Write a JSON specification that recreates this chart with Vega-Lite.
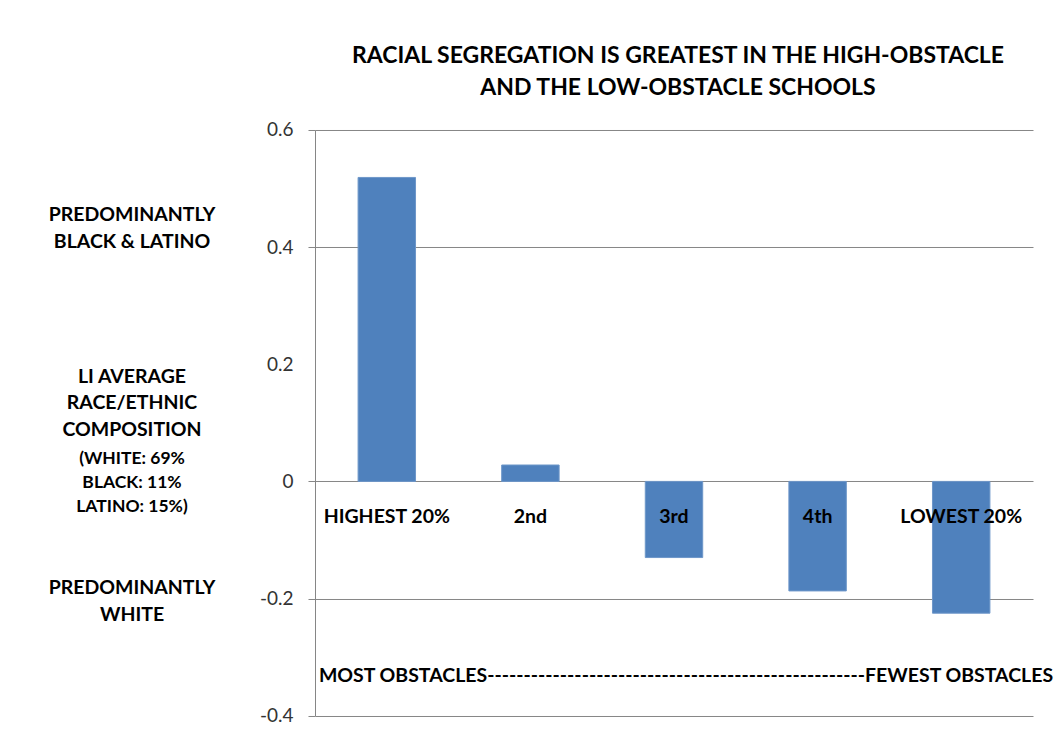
{
  "$schema": "https://vega.github.io/schema/vega-lite/v6.json",
  "background": "white",
  "padding": {"left": 0, "top": 45, "right": 4, "bottom": 4},
  "bounds": "flush",
  "spacing": 51,
  "config": {
    "view": {"stroke": null},
    "font": "Lato",
    "text": {"font": "Lato", "color": "black"}
  },
  "datasets": {
    "quintiles": [
      {"group": "HIGHEST 20%", "value": 0.519},
      {"group": "2nd", "value": 0.028},
      {"group": "3rd", "value": -0.13},
      {"group": "4th", "value": -0.187},
      {"group": "LOWEST 20%", "value": -0.225}
    ],
    "notes": [
      {"kind": "big", "level": 0.4547, "lines": ["PREDOMINANTLY", "BLACK & LATINO"]},
      {"kind": "big", "level": 0.1783, "lines": ["LI AVERAGE", "RACE/ETHNIC", "COMPOSITION"]},
      {"kind": "small", "level": 0.0381, "lines": ["(WHITE: 69%", "BLACK: 11%", "LATINO: 15%)"]},
      {"kind": "big", "level": -0.1822, "lines": ["PREDOMINANTLY", "WHITE"]}
    ],
    "span": [
      {"caption": "MOST OBSTACLES----------------------------------------------------FEWEST  OBSTACLES"}
    ]
  },
  "resolve": {"scale": {"y": "shared"}},
  "hconcat": [
    {
      "width": 264,
      "height": 585.7,
      "data": {"name": "notes"},
      "layer": [
        {
          "transform": [{"filter": "datum.kind == 'big'"}],
          "mark": {"type": "text", "fontSize": 19.5, "fontWeight": "bold", "lineHeight": 26.5, "align": "center", "baseline": "middle"},
          "encoding": {
            "y": {"field": "level", "type": "quantitative", "scale": {"domain": [-0.4, 0.6], "nice": false, "zero": false}, "axis": null},
            "text": {"field": "lines"}
          }
        },
        {
          "transform": [{"filter": "datum.kind == 'small'"}],
          "mark": {"type": "text", "fontSize": 17.5, "fontWeight": "bold", "lineHeight": 24, "align": "center", "baseline": "middle"},
          "encoding": {
            "y": {"field": "level", "type": "quantitative", "axis": null},
            "text": {"field": "lines"}
          }
        }
      ]
    },
    {
      "width": 718,
      "height": 585.7,
      "title": {
        "text": ["RACIAL SEGREGATION IS GREATEST IN THE HIGH-OBSTACLE", "AND THE LOW-OBSTACLE SCHOOLS"],
        "font": "Lato",
        "fontSize": 23,
        "fontWeight": "bold",
        "lineHeight": 32,
        "color": "black",
        "anchor": "middle",
        "offset": 21,
        "dx": 4
      },
      "layer": [
        {
          "data": {"name": "quintiles"},
          "mark": {"type": "bar", "color": "#4F81BD", "stroke": "#6d97c9", "strokeWidth": 1},
          "encoding": {
            "x": {
              "field": "group",
              "type": "nominal",
              "sort": null,
              "scale": {"paddingInner": 0.6, "paddingOuter": 0.3},
              "axis": {
                "title": null,
                "orient": "bottom",
                "offset": -233.7,
                "domain": false,
                "ticks": false,
                "tickSize": 0,
                "labelAngle": 0,
                "labelPadding": 26,
                "labelFont": "Lato",
                "labelFontSize": 19.5,
                "labelFontWeight": "bold",
                "labelColor": "black",
                "labelBaseline": "top",
                "grid": false,
                "zindex": 1
              }
            },
            "y": {
              "field": "value",
              "type": "quantitative",
              "scale": {"domain": [-0.4, 0.6], "nice": false, "zero": false},
              "axis": {
                "title": null,
                "values": [-0.4, -0.2, 0, 0.2, 0.4, 0.6],
                "labelExpr": "replace(format(datum.value, '.1~f'), '\u2212', '-')",
                "labelFont": "Lato",
                "labelFontSize": 19,
                "labelColor": "#333333",
                "labelPadding": 15,
                "tickSize": 7,
                "tickColor": "#868686",
                "domainColor": "#868686",
                "gridColor": "#868686",
                "gridOpacity": {"condition": {"test": "abs(datum.value - 0.2) < 0.001", "value": 0}, "value": 1},
                "tickOpacity": {"condition": {"test": "abs(datum.value - 0.2) < 0.001", "value": 0}, "value": 1},
                "grid": true,
                "zindex": 0
              }
            }
          }
        },
        {
          "data": {"name": "span"},
          "mark": {"type": "text", "fontSize": 19.5, "fontWeight": "bold", "align": "center", "baseline": "middle", "dx": 12},
          "encoding": {
            "y": {"datum": -0.333},
            "text": {"field": "caption"}
          }
        }
      ]
    }
  ]
}
